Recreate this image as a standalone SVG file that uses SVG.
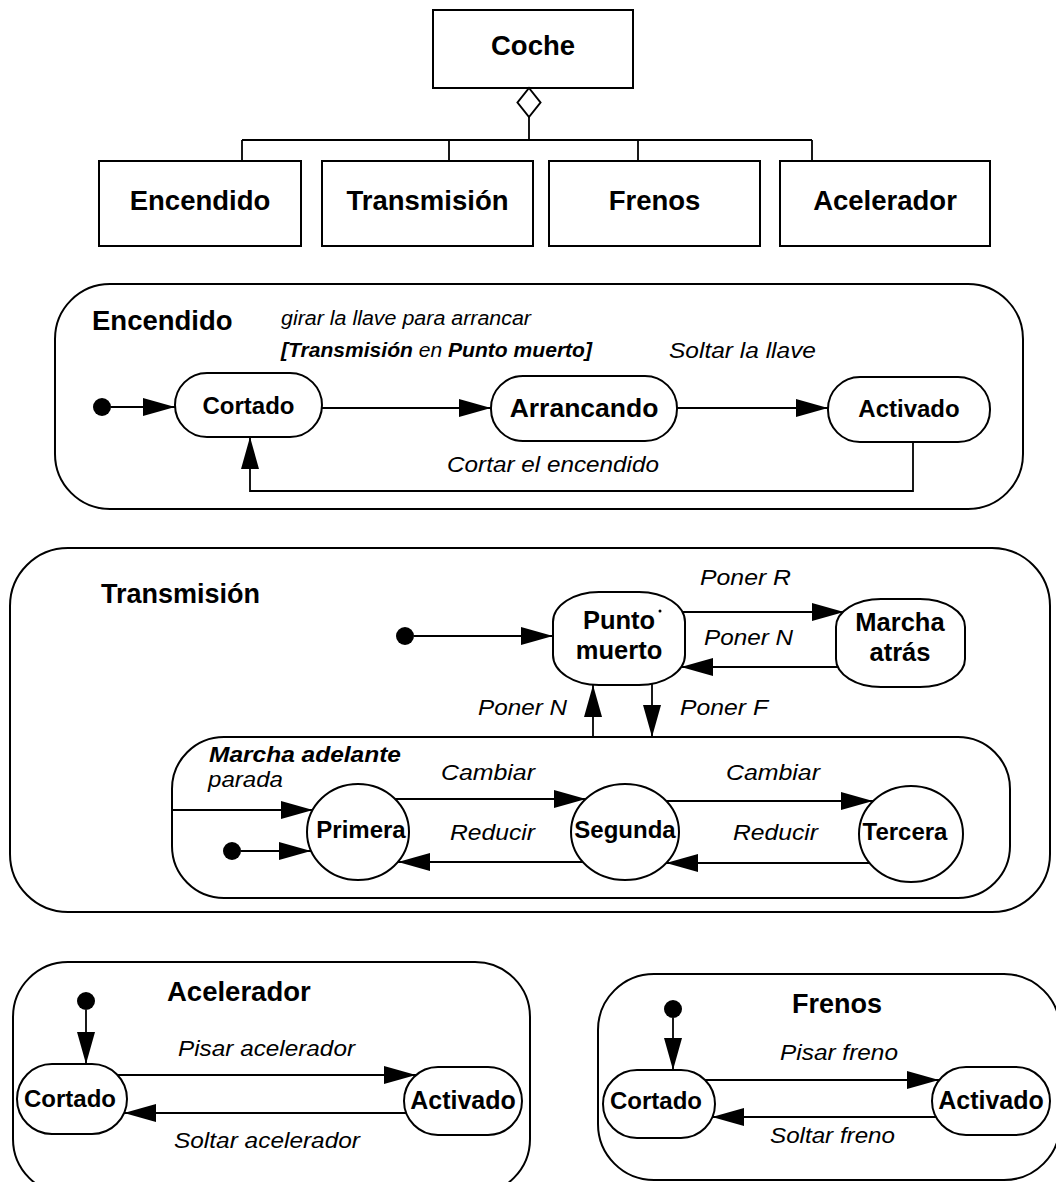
<svg xmlns="http://www.w3.org/2000/svg" width="1056" height="1182" viewBox="0 0 1056 1182">
<style>
  .box{fill:#fff;stroke:#000;stroke-width:2}
  .st{fill:#fff;stroke:#000;stroke-width:2}
  .ctr{fill:none;stroke:#000;stroke-width:2}
  .ln{fill:none;stroke:#000;stroke-width:1.8}
  .arr{fill:none;stroke:#000;stroke-width:1.8;marker-end:url(#ah)}
  .dot{fill:#000}
  .h{font-family:"Liberation Sans",Arial,sans-serif;font-weight:bold;font-size:27.5px;fill:#000}
  .hc{text-anchor:middle}
  .s{font-family:"Liberation Sans",Arial,sans-serif;font-weight:bold;font-size:24px;fill:#000;text-anchor:middle}
  .lb{font-family:"Liberation Sans",Arial,sans-serif;font-style:italic;font-size:22.5px;fill:#000}
  .b{font-weight:bold}
</style>
<defs>
  <marker id="ah" markerUnits="userSpaceOnUse" markerWidth="32" markerHeight="18" viewBox="0 0 32 18" refX="32" refY="9" orient="auto">
    <path d="M0,0 L32,9 L0,18 Z" fill="#000"/>
  </marker>
</defs>

<!-- class diagram: Coche and its parts -->
<g id="coche"><rect class="box" x="433" y="10" width="200" height="78"/><text class="h hc" x="533" y="55">Coche</text></g>
<g id="clase-encendido"><rect class="box" x="99" y="161" width="202" height="85"/><text class="h hc" x="200" y="210">Encendido</text></g>
<g id="clase-transmision"><rect class="box" x="322" y="161" width="211" height="85"/><text class="h hc" x="427.5" y="210">Transmisión</text></g>
<g id="clase-frenos"><rect class="box" x="549" y="161" width="211" height="85"/><text class="h hc" x="654.5" y="210">Frenos</text></g>
<g id="clase-acelerador"><rect class="box" x="780" y="161" width="210" height="85"/><text class="h hc" x="885" y="210">Acelerador</text></g>

<!-- state machine containers -->
<g id="encendido">
  <rect class="ctr" x="55" y="284" width="968" height="225" rx="55"/>
  <text class="h" x="92" y="330">Encendido</text>
</g>
<g id="transmision">
  <rect class="ctr" x="10" y="548" width="1040" height="364" rx="58"/>
  <text class="h" x="101" y="603" style="font-size:27px">Transmisión</text>
</g>
<g id="marcha-adelante">
  <rect class="ctr" x="172" y="737" width="838" height="161" rx="52"/>
  <text class="lb b" x="209" y="762" textLength="192" lengthAdjust="spacingAndGlyphs">Marcha adelante</text>
  <text class="lb" x="208" y="787" textLength="75" lengthAdjust="spacingAndGlyphs">parada</text>
</g>
<g id="acelerador">
  <rect class="ctr" x="13" y="962" width="517" height="232" rx="55"/>
  <text class="h" x="167" y="1001">Acelerador</text>
</g>
<g id="frenos">
  <rect class="ctr" x="598" y="974" width="462" height="206" rx="56"/>
  <text class="h" x="792" y="1013" style="font-size:27px">Frenos</text>
</g>

<!-- connectors and transition labels -->
<g id="connectors">
  <!-- aggregation -->
  <polygon points="529,88 540.5,102.5 529,117 517.5,102.5" fill="#fff" stroke="#000" stroke-width="2"/>
  <path class="ln" d="M529,117 V140 M242,140 H812 M242,140 V161 M449,140 V161 M638,140 V161 M812,140 V161"/>

  <!-- Encendido -->
  <line class="arr" x1="111" y1="407" x2="175" y2="407"/>
  <line class="arr" x1="322" y1="408" x2="491" y2="408"/>
  <line class="arr" x1="677" y1="408" x2="828" y2="408"/>
  <polyline class="arr" points="913,442 913,491 250,491 250,437"/>
  <text class="lb" x="281" y="325" style="font-size:20.5px" textLength="250" lengthAdjust="spacingAndGlyphs">girar la llave para arrancar</text>
  <text class="lb" x="281" y="357" style="font-size:20.5px" textLength="311" lengthAdjust="spacingAndGlyphs"><tspan class="b">[Transmisión</tspan> en <tspan class="b">Punto muerto]</tspan></text>
  <text class="lb" x="669" y="358" textLength="147" lengthAdjust="spacingAndGlyphs">Soltar la llave</text>
  <text class="lb" x="447" y="472" textLength="212" lengthAdjust="spacingAndGlyphs">Cortar el encendido</text>

  <!-- Transmisión -->
  <line class="arr" x1="414" y1="636" x2="553" y2="636"/>
  <line class="arr" x1="682" y1="612" x2="844" y2="612"/>
  <line class="arr" x1="838" y1="667" x2="681" y2="667"/>
  <line class="arr" x1="593" y1="737" x2="593" y2="685"/>
  <line class="arr" x1="652" y1="684" x2="652" y2="737"/>
  <text class="lb" x="700" y="585" textLength="91" lengthAdjust="spacingAndGlyphs">Poner R</text>
  <text class="lb" x="704" y="645" textLength="89" lengthAdjust="spacingAndGlyphs">Poner N</text>
  <text class="lb" x="478" y="715" textLength="89" lengthAdjust="spacingAndGlyphs">Poner N</text>
  <text class="lb" x="680" y="715" textLength="88" lengthAdjust="spacingAndGlyphs">Poner F</text>

  <!-- Marcha adelante -->
  <line class="arr" x1="172" y1="810" x2="313" y2="810"/>
  <line class="arr" x1="241" y1="851" x2="311" y2="851"/>
  <line class="arr" x1="395" y1="799" x2="586" y2="799"/>
  <line class="arr" x1="666" y1="801" x2="873" y2="801"/>
  <line class="arr" x1="583" y1="862" x2="398" y2="862"/>
  <line class="arr" x1="870" y1="863" x2="666" y2="863"/>
  <text class="lb" x="441" y="780" textLength="94" lengthAdjust="spacingAndGlyphs">Cambiar</text>
  <text class="lb" x="726" y="780" textLength="94" lengthAdjust="spacingAndGlyphs">Cambiar</text>
  <text class="lb" x="450" y="840" textLength="85" lengthAdjust="spacingAndGlyphs">Reducir</text>
  <text class="lb" x="733" y="840" textLength="85" lengthAdjust="spacingAndGlyphs">Reducir</text>

  <!-- Acelerador -->
  <line class="arr" x1="86" y1="1010" x2="86" y2="1064"/>
  <line class="arr" x1="118" y1="1075" x2="416" y2="1075"/>
  <line class="arr" x1="406" y1="1113" x2="124" y2="1113"/>
  <text class="lb" x="178" y="1056" textLength="177" lengthAdjust="spacingAndGlyphs">Pisar acelerador</text>
  <text class="lb" x="174" y="1148" textLength="186" lengthAdjust="spacingAndGlyphs">Soltar acelerador</text>

  <!-- Frenos -->
  <line class="arr" x1="673" y1="1018" x2="673" y2="1070"/>
  <line class="arr" x1="705" y1="1080" x2="939" y2="1080"/>
  <line class="arr" x1="936" y1="1117" x2="712" y2="1117"/>
  <text class="lb" x="780" y="1060" textLength="118" lengthAdjust="spacingAndGlyphs">Pisar freno</text>
  <text class="lb" x="770" y="1143" textLength="125" lengthAdjust="spacingAndGlyphs">Soltar freno</text>
</g>

<!-- Encendido states -->
<g id="enc-inicio"><circle class="dot" cx="102" cy="407" r="9"/></g>
<g id="enc-cortado"><rect class="st" x="175" y="373" width="147" height="64" rx="32"/><text class="s" x="248.5" y="414">Cortado</text></g>
<g id="enc-arrancando"><rect class="st" x="491" y="376" width="186" height="65" rx="32"/><text class="s" x="584" y="417" style="font-size:26.5px">Arrancando</text></g>
<g id="enc-activado"><rect class="st" x="828" y="377" width="162" height="65" rx="32"/><text class="s" x="909" y="417">Activado</text></g>

<!-- Transmisión states -->
<g id="tr-inicio"><circle class="dot" cx="405" cy="636" r="9"/></g>
<g id="punto-muerto">
  <rect class="st" x="553" y="592" width="132" height="93" rx="46" ry="30"/>
  <text class="s" x="619" y="629" style="font-size:25.5px">Punto</text>
  <text class="s" x="619" y="659" style="font-size:25.5px">muerto</text>
  <circle class="dot" cx="660" cy="611" r="1.5"/>
</g>
<g id="marcha-atras">
  <rect class="st" x="836" y="599" width="129" height="88" rx="45" ry="28"/>
  <text class="s" x="900" y="631" style="font-size:25.5px">Marcha</text>
  <text class="s" x="900" y="661" style="font-size:25.5px">atrás</text>
</g>
<g id="ma-inicio"><circle class="dot" cx="232" cy="851" r="9"/></g>
<g id="primera"><ellipse class="st" cx="358" cy="832" rx="51" ry="48"/><text class="s" x="361" y="838">Primera</text></g>
<g id="segunda"><ellipse class="st" cx="625" cy="832" rx="54" ry="48"/><text class="s" x="625" y="838">Segunda</text></g>
<g id="tercera"><ellipse class="st" cx="911" cy="834" rx="52" ry="48"/><text class="s" x="905" y="840">Tercera</text></g>

<!-- Acelerador states -->
<g id="acel-inicio"><circle class="dot" cx="86" cy="1001" r="9"/></g>
<g id="acel-cortado"><rect class="st" x="17" y="1064" width="110" height="70" rx="35"/><text class="s" x="70" y="1107">Cortado</text></g>
<g id="acel-activado"><rect class="st" x="404" y="1067" width="118" height="68" rx="34"/><text class="s" x="463" y="1109" style="font-size:25px">Activado</text></g>

<!-- Frenos states -->
<g id="fre-inicio"><circle class="dot" cx="673" cy="1009" r="9"/></g>
<g id="fre-cortado"><rect class="st" x="603" y="1070" width="112" height="68" rx="34"/><text class="s" x="656" y="1109">Cortado</text></g>
<g id="fre-activado"><rect class="st" x="932" y="1067" width="118" height="68" rx="34"/><text class="s" x="991" y="1109" style="font-size:25px">Activado</text></g>
</svg>
